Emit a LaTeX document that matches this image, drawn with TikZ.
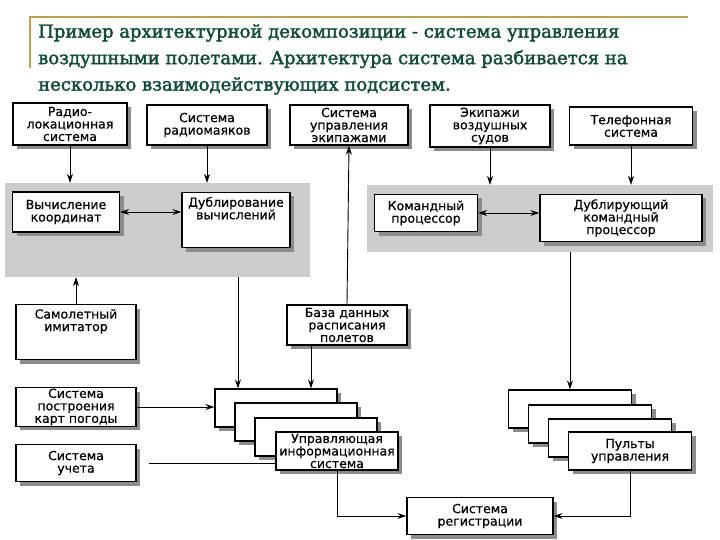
\documentclass[tikz,border=0pt]{standalone}
\usepackage{fontspec}
\setmainfont[FakeBold=0.6]{DejaVu Sans}
\newfontfamily\titlefont[FakeBold=2]{DejaVu Serif}
\usetikzlibrary{arrows.meta,shadows}
\definecolor{titlegreen}{RGB}{18,74,58}
\definecolor{titlegold}{RGB}{190,160,84}
\definecolor{panelgray}{RGB}{205,205,205}
\definecolor{shadowgray}{RGB}{140,140,140}
\tikzset{
  blk/.style={draw,line width=1.3pt,fill=white,align=center,inner sep=1pt,
    font=\fontsize{12.5}{12.5}\selectfont,
    drop shadow={shadow xshift=4pt,shadow yshift=-4pt,fill=shadowgray,opacity=1}},
  toptext/.style={label={[anchor=north,align=center,inner sep=0pt,
    font=\fontsize{12.5}{12.5}\selectfont,yshift=-5pt]north:{#1}}},
  panel/.style={fill=panelgray,inner sep=0pt},
  arr/.style={-{Stealth[length=9pt,width=6pt]},line width=0.9pt},
  dbl/.style={{Stealth[length=9pt,width=6pt]}-{Stealth[length=9pt,width=6pt]},line width=0.9pt},
  ln/.style={line width=0.9pt}
}
\begin{document}
\begin{tikzpicture}[x=1pt,y=-1pt]
\useasboundingbox (0,0) rectangle (720,540);
\draw[titlegold,line width=2pt] (30,68) -- (30,17) -- (688,17);
\node[anchor=north west,inner sep=0pt,align=left,text=titlegreen,
  font=\titlefont\fontsize{18}{26.5}\selectfont] (title) at (38,24)
  {Пример архитектурной декомпозиции - система управления\\
   воздушными полетами. Архитектура система разбивается на\\
   несколько взаимодействующих подсистем.};

\node[panel,minimum width=305pt,minimum height=94pt] (lp) at (157.5,230) {};
\node[panel,minimum width=346pt,minimum height=67pt] (rp) at (540,218.5) {};

\node[blk,minimum width=114pt,minimum height=42pt] (radar) at (70,124) {Радио-\\локационная\\система};
\node[blk,minimum width=120pt,minimum height=40pt] (beacon) at (207,125) {Система\\радиомаяков};
\node[blk,minimum width=118pt,minimum height=40pt] (crew) at (349,125) {Система\\управления\\экипажами};
\node[blk,minimum width=120pt,minimum height=42pt] (aircrew) at (490,126) {Экипажи\\воздушных\\судов};
\node[blk,minimum width=123pt,minimum height=38pt] (phone) at (631,126) {Телефонная\\система};

\node[blk,minimum width=107pt,minimum height=40pt] (coord) at (66,212) {Вычисление\\координат};
\node[blk,minimum width=108pt,minimum height=55pt,toptext={Дублирование\\вычислений}] (dupcalc) at (236,220) {};
\node[blk,minimum width=103pt,minimum height=37pt] (cmd) at (426,213) {Командный\\процессор};
\node[blk,minimum width=162pt,minimum height=47pt] (dupcmd) at (621,218) {Дублирующий\\командный\\процессор};

\node[blk,minimum width=120pt,minimum height=55pt,toptext={Самолетный\\имитатор}] (sim) at (76,332) {};
\node[blk,minimum width=120pt,minimum height=40pt] (db) at (347,325) {База данных\\расписания\\полетов};
\node[blk,minimum width=120pt,minimum height=38pt] (weather) at (76,407) {Система\\построения\\карт погоды};
\node[blk,minimum width=120pt,minimum height=37pt] (account) at (76,463) {Система\\учета};

\node[blk,minimum width=122pt,minimum height=38pt] (uis1) at (276,408) {};
\node[blk,minimum width=122pt,minimum height=38pt] (uis2) at (296,422) {};
\node[blk,minimum width=122pt,minimum height=38pt] (uis3) at (316,437) {};
\node[blk,minimum width=122pt,minimum height=38pt] (uis4) at (337,451) {Управляющая\\информационная\\система};

\node[blk,minimum width=123pt,minimum height=38pt] (cons1) at (570,409) {};
\node[blk,minimum width=123pt,minimum height=38pt] (cons2) at (590,424) {};
\node[blk,minimum width=123pt,minimum height=38pt] (cons3) at (610,438) {};
\node[blk,minimum width=123pt,minimum height=38pt] (cons4) at (630,451) {Пульты\\управления};

\node[blk,minimum width=146pt,minimum height=37pt] (reg) at (480,516) {Система\\регистрации};

\draw[arr] (radar.south) -- (radar.south |- lp.north);
\draw[arr] (beacon.south) -- (beacon.south |- lp.north);
\draw[arr] (aircrew.south) -- (aircrew.south |- rp.north);
\draw[arr] (phone.south) -- (phone.south |- rp.north);
\draw[dbl] (coord.east) -- (coord.east -| dupcalc.west);
\draw[dbl] (cmd.east) -- (cmd.east -| dupcmd.west);
\draw[arr] (sim.north) -- (sim.north |- lp.south);
\draw[arr] (db.north) -- (crew.south);
\draw[arr] ([xshift=-38pt]uis1.north |- lp.south) -- ([xshift=-38pt]uis1.north);
\draw[arr] ([xshift=-36pt]db.south) -- ([xshift=-36pt]db.south |- uis1.north);
\draw[arr] (weather.east) -- (weather.east -| uis1.west);
\draw[ln,shorten <=12pt] (account.east) -- (account.east -| uis4.west);
\draw[arr] (cons1.north |- rp.south) -- (cons1.north);
\draw[arr] (uis4.south) |- (reg.west);
\draw[arr] (cons4.south) |- (reg.east);
\end{tikzpicture}
\end{document}
